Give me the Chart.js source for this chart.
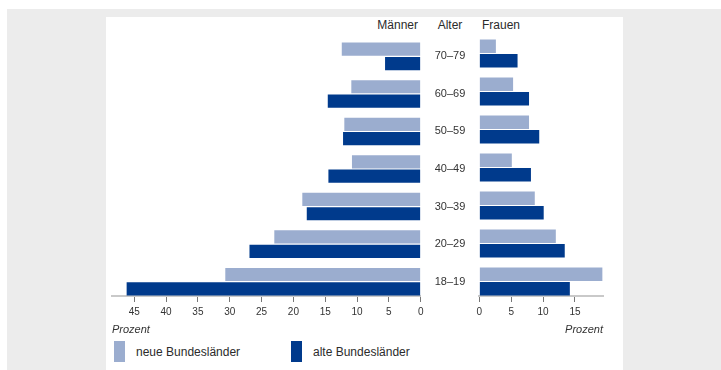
<!DOCTYPE html>
<html lang="de">
<head>
<meta charset="UTF-8">
<title>Altersstruktur nach Geschlecht</title>
<script src="https://cdn.jsdelivr.net/npm/chart.js"></script>
<style>
  * { margin: 0; padding: 0; box-sizing: border-box; }
  body { width: 721px; height: 370px; background: #fff; position: relative; overflow: hidden;
         font-family: 'Liberation Sans', Arial, sans-serif; color: #2b2b2b; }
  .frame { position: absolute; left: 7px; top: 9px; width: 714px; height: 361px; background: #ececec; }
  .panel { position: absolute; left: 106px; top: 17px; width: 517px; height: 353px; background: #fff; }
  .head { position: absolute; top: 17px; font-size: 12px; line-height: 16px; }
  .chart-box { position: absolute; top: 17px; height: 324px; }
  .legend-item { position: absolute; top: 341px; height: 21px; display: flex; align-items: center; font-size: 12px; }
  .legend-item span { display: inline-block; width: 11px; height: 21px; margin-right: 11px; }
</style>
</head>
<body>
<div class="frame"></div>
<div class="panel"></div>

<div class="head" style="left:318px; width:100px; text-align:right;">Männer</div>
<div class="head" style="left:425px; width:50px; text-align:center;">Alter</div>
<div class="head" style="left:482px;">Frauen</div>

<div class="chart-box" style="left:100px; width:385px;"><canvas id="maennerChart"></canvas></div>
<div class="chart-box" style="left:470px; width:140px;"><canvas id="frauenChart"></canvas></div>

<div class="legend-item" style="left:114px;"><span style="background:#9badcf"></span>neue Bundesländer</div>
<div class="legend-item" style="left:291px;"><span style="background:#003a8c"></span>alte Bundesländer</div>

<script>
// Altersgruppen von oben nach unten
const ages = ['70–79', '60–69', '50–59', '40–49', '30–39', '20–29', '18–19'];

// Männer, Anteile in Prozent
const maennerNeu = [12.4, 10.9, 12.0, 10.8, 18.6, 23.0, 30.7];
const maennerAlt = [5.6, 14.6, 12.2, 14.5, 17.9, 26.9, 46.2];

// Frauen, Anteile in Prozent
const frauenNeu = [2.6, 5.3, 7.8, 5.1, 8.7, 12.0, 19.3];
const frauenAlt = [6.0, 7.8, 9.4, 8.1, 10.1, 13.4, 14.2];

const seriesNames = ['neue Bundesländer', 'alte Bundesländer'];
const colors = ['#9badcf', '#003a8c'];

const font = "'Liberation Sans', Arial, sans-serif";

// sign = -1 lässt die Männer-Balken nach links wachsen
function points(values, sign) {
  return values.map((v, i) => ({ x: sign * v, y: i }));
}

function datasets(neu, alt, sign) {
  return [neu, alt].map((vals, k) => ({
    label: seriesNames[k],
    data: points(vals, sign),
    backgroundColor: colors[k],
    borderWidth: 0,
    barPercentage: 0.92,
    categoryPercentage: 0.764
  }));
}

// gemeinsame y-Achse: Index 0 oben, Achsenlinie genau unter dem letzten Balken
function yScale(showLabels) {
  const scale = {
    type: 'linear',
    reverse: true,
    offset: false,
    min: -0.5,
    max: 6.382,
    position: 'right',
    display: showLabels,
    grid: { display: false, drawTicks: false, offset: false },
    border: { display: false },
    afterBuildTicks: s => { s.ticks = ages.map((_, i) => ({ value: i })); },
    ticks: {
      crossAlign: 'center',
      padding: 14,
      color: '#333',
      font: { family: font, size: 11 },
      callback: v => ages[v]
    }
  };
  if (showLabels) scale.afterFit = s => { s.width = 58.6; };
  return scale;
}

function xScale(min, max, titleAlign) {
  return {
    type: 'linear',
    min: min,
    max: max,
    afterFit: s => { s.height = 45; },
    grid: { drawOnChartArea: false, drawTicks: true, tickLength: 6, color: '#777', lineWidth: 1 },
    border: { color: '#c9c9c9', width: 2 },
    ticks: {
      stepSize: 5,
      includeBounds: false,
      padding: 4,
      color: '#333',
      font: { family: font, size: 10 },
      callback: v => Math.abs(v)
    },
    title: {
      display: true,
      text: 'Prozent',
      align: titleAlign,
      color: '#333',
      padding: { top: 2, bottom: 4 },
      font: { family: font, size: 11, style: 'italic' }
    }
  };
}

const common = {
  indexAxis: 'y',
  responsive: true,
  maintainAspectRatio: false,
  animation: false,
  plugins: { legend: { display: false }, tooltip: { enabled: false } }
};

new Chart(document.getElementById('maennerChart'), {
  type: 'bar',
  data: { datasets: datasets(maennerNeu, maennerAlt, -1) },
  options: {
    ...common,
    layout: { padding: { top: 17.5, left: 12, right: 5.7, bottom: 0 } },
    scales: { x: xScale(-48.5, 0, 'start'), y: yScale(true) }
  }
});

new Chart(document.getElementById('frauenChart'), {
  type: 'bar',
  data: { datasets: datasets(frauenNeu, frauenAlt, 1) },
  options: {
    ...common,
    layout: { padding: { top: 17.5, left: 9.3, right: 7, bottom: 0 } },
    scales: { x: xScale(0, 19.4, 'end'), y: yScale(false) }
  }
});
</script>
</body>
</html>
